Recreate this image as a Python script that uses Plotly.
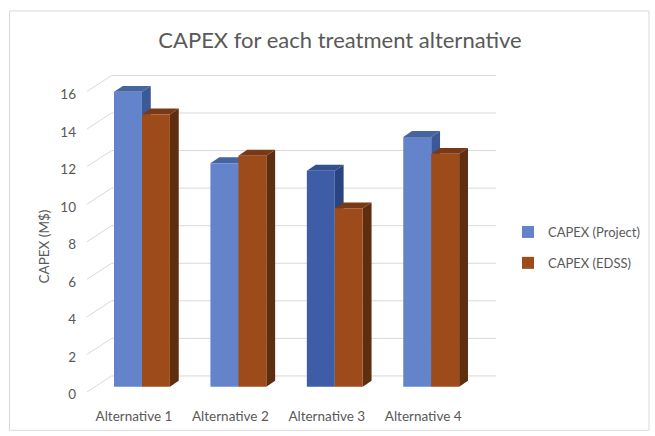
import plotly.graph_objects as go

# ---- data -------------------------------------------------------------
categories = ["Alternative 1", "Alternative 2", "Alternative 3", "Alternative 4"]
capex_project = [15.7, 11.9, 11.5, 13.3]
capex_edss = [14.5, 12.3, 9.5, 12.4]
y_ticks = [0, 2, 4, 6, 8, 10, 12, 14, 16]

# ---- geometry (pixels) ------------------------------------------------
W, H = 655, 436
PLOT_L, PLOT_R = 87, 504          # front-left wall edge .. right end of back gridlines
PLOT_T, PLOT_B = 64, 398          # top .. front floor edge
PX_PER_UNIT = 19.125              # vertical pixels per M$
X_MIN, X_MAX = -0.57, 3.672
PX_PER_X = (PLOT_R - PLOT_L) / (X_MAX - X_MIN)

FRONT_SHIFT = 0.28                # front wall sits slightly below bar plane
BACK_SHIFT = 0.575                # back wall sits above bar plane
WALL_DX = 25 / (PLOT_R - PLOT_L)  # back wall offset to the right (paper units)
Y_MIN = -FRONT_SHIFT
Y_MAX = Y_MIN + (PLOT_B - PLOT_T) / PX_PER_UNIT

BAR_W = 28.5 / PX_PER_X
DEPTH_X = 9 / PX_PER_X
DEPTH_Y = 6 / PX_PER_UNIT

GRID = "#D9D9D9"
TEXT = "#595959"
FONT = "Lato, Carlito, Calibri, sans-serif"

proj_front = ["#6384CA", "#6384CA", "#3E5DA6", "#6384CA"]
proj_side = ["#3C5997", "#3C5997", "#2A4381", "#3C5997"]
proj_top = ["#46649F", "#46649F", "#33508F", "#46649F"]
edss_front, edss_side, edss_top = "#9E4B1C", "#5E2E10", "#7A3915"

xs = list(range(len(categories)))

fig = go.Figure()
fig.add_trace(go.Bar(
    x=xs, y=capex_project, name="CAPEX (Project)",
    width=BAR_W, offset=-BAR_W,
    marker=dict(color=proj_front, line=dict(width=0)),
    legendgroup="p",
))
fig.add_trace(go.Bar(
    x=xs, y=capex_edss, name="CAPEX (EDSS)",
    width=BAR_W, offset=0,
    marker=dict(color=edss_front, line=dict(width=0)),
    legendgroup="e",
))

shapes = []

# walls: slanted side-wall lines and horizontal back-wall gridlines
for t in y_ticks:
    shapes.append(dict(type="line", xref="paper", yref="y", layer="below",
                       x0=0, y0=t - FRONT_SHIFT, x1=WALL_DX, y1=t + BACK_SHIFT,
                       line=dict(color=GRID, width=1)))
    shapes.append(dict(type="line", xref="paper", yref="y", layer="below",
                       x0=WALL_DX, y0=t + BACK_SHIFT, x1=1, y1=t + BACK_SHIFT,
                       line=dict(color=GRID, width=1)))


def box_faces(x_left, value, side_col, top_col):
    xr = x_left + BAR_W
    side = (f"M {xr},0 L {xr + DEPTH_X},{DEPTH_Y} "
            f"L {xr + DEPTH_X},{value + DEPTH_Y} L {xr},{value} Z")
    top = (f"M {x_left},{value} L {x_left + DEPTH_X},{value + DEPTH_Y} "
           f"L {xr + DEPTH_X},{value + DEPTH_Y} L {xr},{value} Z")
    return [
        dict(type="path", xref="x", yref="y", layer="between", path=side,
             fillcolor=side_col, line=dict(width=0)),
        dict(type="path", xref="x", yref="y", layer="between", path=top,
             fillcolor=top_col, line=dict(width=0)),
    ]


for i, x in enumerate(xs):
    shapes += box_faces(x - BAR_W, capex_project[i], proj_side[i], proj_top[i])
for i, x in enumerate(xs):
    shapes += box_faces(x, capex_edss[i], edss_side, edss_top)


def px_to_paper_x(px):
    return (px - PLOT_L) / (PLOT_R - PLOT_L)


def px_to_paper_y(py):
    return (PLOT_B - py) / (PLOT_B - PLOT_T)


# light outer chart border
shapes.append(dict(type="rect", xref="paper", yref="paper", layer="below",
                   x0=px_to_paper_x(8), y0=px_to_paper_y(437),
                   x1=px_to_paper_x(660), y1=px_to_paper_y(10),
                   line=dict(color="#D9D9D9", width=1), fillcolor="rgba(0,0,0,0)"))

fig.update_layout(
    width=W, height=H,
    margin=dict(l=PLOT_L, r=W - PLOT_R, t=PLOT_T, b=H - PLOT_B),
    paper_bgcolor="white", plot_bgcolor="white",
    font=dict(family=FONT, color=TEXT, size=13),
    title=dict(text="CAPEX for each treatment alternative",
               x=340 / W, xanchor="center", xref="container",
               y=1 - 40 / H, yanchor="middle", yref="container",
               font=dict(size=22, color=TEXT, family=FONT)),
    barmode="group",
    showlegend=True,
    legend=dict(x=508 / W, xref="container", xanchor="left",
                y=1 - 217 / H, yref="container", yanchor="top",
                font=dict(size=13, color=TEXT, family=FONT),
                tracegroupgap=11, bgcolor="rgba(0,0,0,0)"),
    xaxis=dict(range=[X_MIN, X_MAX], tickvals=xs, ticktext=categories,
               showgrid=False, zeroline=False, showline=False, ticks="",
               ticklabelshift=-8, ticklabelstandoff=14,
               tickfont=dict(size=13.5, color=TEXT)),
    yaxis=dict(range=[Y_MIN, Y_MAX], tickvals=y_ticks,
               showgrid=False, zeroline=False, showline=False, ticks="",
               ticklabelshift=8, ticklabelstandoff=10,
               tickfont=dict(size=13.5, color=TEXT)),
    shapes=shapes,
    annotations=[dict(text="CAPEX (M$)", textangle=-90, showarrow=False,
                      xref="paper", yref="paper",
                      x=px_to_paper_x(43), y=px_to_paper_y(250),
                      xanchor="center", yanchor="middle",
                      font=dict(size=13.5, color=TEXT, family=FONT))],
)

fig.write_html("out.html")
